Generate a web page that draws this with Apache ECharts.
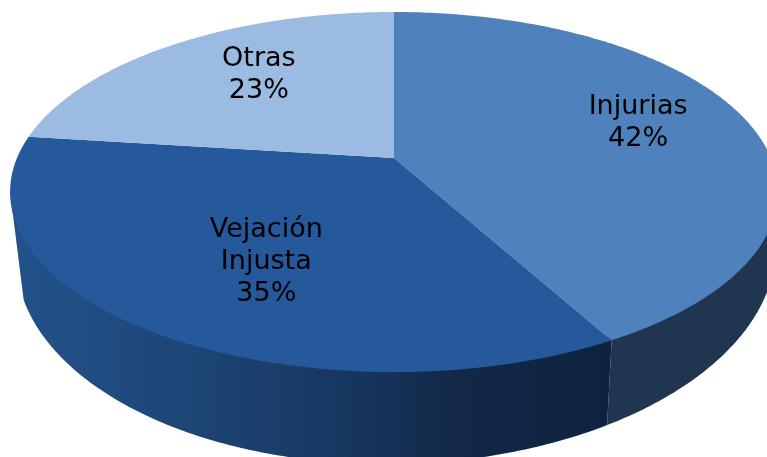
<!DOCTYPE html>
<html>
<head>
<meta charset="utf-8">
<style>html,body{margin:0;padding:0;background:#fff;overflow:hidden}#c{width:767px;height:457px}</style>
<script src="https://cdn.jsdelivr.net/npm/echarts@6/dist/echarts.min.js"></script>
</head>
<body>
<div id="c"></div>
<script>
const categories = ['Injurias', 'Vejación\nInjusta', 'Otras'];
const values = [42, 35, 23];
const topColors = ['#4f81bd', '#25599b', '#9bbbe2'];
const wallStops = [
  [{offset: 0, color: '#1f3550'}, {offset: 1, color: '#1f3550'}],
  [{offset: 0.02, color: '#22528b'}, {offset: 0.13, color: '#1f4c80'}, {offset: 0.26, color: '#1d4474'},
   {offset: 0.4, color: '#193a66'}, {offset: 0.5, color: '#153259'}, {offset: 0.6, color: '#122846'},
   {offset: 0.8, color: '#0e2340'}, {offset: 1, color: '#0e2340'}],
  null
];
// label placement inside each slice: radius fraction and angular shift from the slice's middle
const labelRadius = [0.705, 0.618, 0.66];
const labelShift = [-2.9, -4.7, 4.7];

// Perspective of the tilted disc
const APEX = [394, 158], SX = 377, SY = 173.6, K = 0.189;
const TOP = {cx: 394, cy: 192, rx: 384, ry: 180};
const BOT = {cx: 396, cy: 252, rx: 380, ry: 212, shear: -0.015, narrow: 0.98};
const VIS_R = Math.acos(-K), VIS_L = 2 * Math.PI - VIS_R;

function project(theta, r) {
  const x = r * Math.sin(theta), z = r * Math.cos(theta), d = 1 + K * z;
  return [APEX[0] + SX * x / d, APEX[1] - SY * z / d];
}
function lower(theta) {
  const p = project(theta, 1);
  const c = BOT.narrow * (p[0] - TOP.cx) / TOP.rx;
  const s = Math.sqrt(Math.max(0, 1 - c * c));
  const x = BOT.cx + BOT.rx * c;
  return [x, BOT.cy + BOT.ry * s + BOT.shear * (x - BOT.cx)];
}
function sweep(a, b) {
  const n = Math.max(2, Math.ceil((b - a) / (Math.PI / 240)));
  const out = [];
  for (let i = 0; i <= n; i++) out.push(a + (b - a) * i / n);
  return out;
}

const total = values.reduce((s, v) => s + v, 0);
const seriesData = values.map((v, i) => [i, v]);

function renderItem(params, api) {
  const i = api.value(0);
  let before = 0;
  for (let j = 0; j < i; j++) before += values[j];
  const a = before / total * 2 * Math.PI;
  const b = (before + values[i]) / total * 2 * Math.PI;
  const children = [];
  const wa = Math.max(a, VIS_R), wb = Math.min(b, VIS_L);
  if (wb > wa && wallStops[i]) {
    const ang = sweep(wa, wb);
    // the upper edge tucks slightly under the slice's top face so no seam shows
    const pts = ang.map(t => project(t, 0.985)).concat(
      [project(wb, 1)], ang.slice().reverse().map(lower), [project(wa, 1)]);
    children.push({
      type: 'polygon',
      shape: {points: pts},
      style: {fill: {type: 'linear', x: 0, y: 0, x2: 767, y2: 0, global: true, colorStops: wallStops[i]}}
    });
  }
  const rim = sweep(a, b).map(t => project(t, 1));
  children.push({
    type: 'polygon',
    shape: {points: [project(0, 0)].concat(rim)},
    style: {fill: topColors[i]}
  });
  const mid = (a + b) / 2 + labelShift[i] * Math.PI / 180;
  const lp = project(mid, labelRadius[i]);
  children.push({
    type: 'text',
    z2: 10,
    style: {
      text: categories[i] + '\n' + Math.round(values[i] / total * 100) + '%',
      x: lp[0], y: lp[1],
      align: 'center', verticalAlign: 'middle',
      font: '27px "DejaVu Sans"',
      lineHeight: 32,
      fill: '#000'
    }
  });
  return {type: 'group', children};
}

const chart = echarts.init(document.getElementById('c'), null, {renderer: 'canvas'});
chart.setOption({
  animation: false,
  backgroundColor: '#fff',
  series: [{
    type: 'custom',
    coordinateSystem: 'none',
    renderItem,
    data: seriesData,
    silent: true
  }]
});
</script>
</body>
</html>
